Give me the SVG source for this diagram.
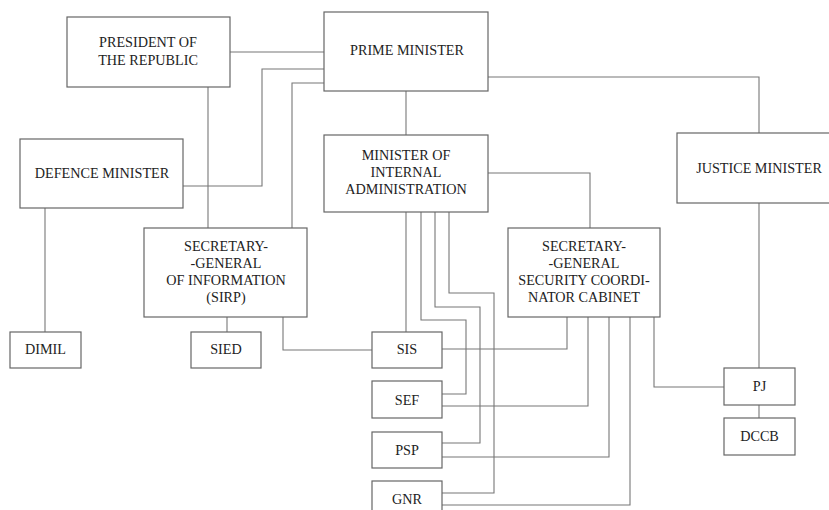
<svg xmlns="http://www.w3.org/2000/svg" width="829" height="510" viewBox="0 0 829 510" font-family="Liberation Serif, DejaVu Serif, serif">
<style>
.box{fill:#fff;stroke:#666;stroke-width:1.2}
.ln{fill:none;stroke:#777;stroke-width:1.1}
text{font-size:14.2px;fill:#222;text-anchor:middle}
</style>
<rect width="829" height="510" fill="#fff"/>
<g id="connectors">
<path class="ln" d="M230 52H324"/>
<path class="ln" d="M324 69H262V186H183"/>
<path class="ln" d="M324 83H292V228"/>
<path class="ln" d="M208 87V228"/>
<path class="ln" d="M406 91V135"/>
<path class="ln" d="M488 77H759V133"/>
<path class="ln" d="M45 208V332"/>
<path class="ln" d="M227 317V332"/>
<path class="ln" d="M283 317V350H372"/>
<path class="ln" d="M406 212V332"/>
<path class="ln" d="M488 173H590V228"/>
<path class="ln" d="M421 212V320H466V394H442"/>
<path class="ln" d="M435 212V307H480V443H442"/>
<path class="ln" d="M449 212V293H494V493H442"/>
<path class="ln" d="M567 317V349H442"/>
<path class="ln" d="M588 317V406H442"/>
<path class="ln" d="M609 317V457H442"/>
<path class="ln" d="M630 317V505H442"/>
<path class="ln" d="M654 317V387H724"/>
<path class="ln" d="M759 203V368"/>
<path class="ln" d="M759 405V418"/>
</g>
<g id="president"><rect class="box" x="67" y="17" width="163" height="70"/><text x="148" y="47">PRESIDENT OF</text><text x="148" y="65">THE REPUBLIC</text></g>
<g id="prime-minister"><rect class="box" x="324" y="12" width="164" height="79"/><text x="407" y="55">PRIME MINISTER</text></g>
<g id="defence-minister"><rect class="box" x="20" y="139" width="163" height="69"/><text x="102" y="178">DEFENCE MINISTER</text></g>
<g id="internal-admin"><rect class="box" x="324" y="135" width="164" height="77"/><text x="406" y="160">MINISTER OF</text><text x="406" y="177">INTERNAL</text><text x="406" y="194">ADMINISTRATION</text></g>
<g id="justice-minister"><rect class="box" x="677" y="133" width="160" height="70"/><text x="759" y="173">JUSTICE MINISTER</text></g>
<g id="sg-information"><rect class="box" x="144" y="228" width="163" height="89"/><text x="226" y="251">SECRETARY-</text><text x="226" y="268">-GENERAL</text><text x="226" y="285">OF INFORMATION</text><text x="226" y="302">(SIRP)</text></g>
<g id="sg-security"><rect class="box" x="508" y="228" width="152" height="89"/><text x="584" y="251">SECRETARY-</text><text x="584" y="268">-GENERAL</text><text x="584" y="285">SECURITY COORDI-</text><text x="584" y="302">NATOR CABINET</text></g>
<g id="dimil"><rect class="box" x="10" y="332" width="71" height="36"/><text x="45.5" y="354">DIMIL</text></g>
<g id="sied"><rect class="box" x="191" y="332" width="70" height="36"/><text x="226" y="354">SIED</text></g>
<g id="sis"><rect class="box" x="372" y="332" width="70" height="36"/><text x="407" y="354">SIS</text></g>
<g id="sef"><rect class="box" x="372" y="381" width="70" height="37"/><text x="407" y="405">SEF</text></g>
<g id="psp"><rect class="box" x="372" y="432" width="70" height="36"/><text x="407" y="455">PSP</text></g>
<g id="gnr"><rect class="box" x="372" y="481" width="70" height="36"/><text x="407" y="504">GNR</text></g>
<g id="pj"><rect class="box" x="724" y="368" width="71" height="37"/><text x="759.5" y="391">PJ</text></g>
<g id="dccb"><rect class="box" x="724" y="418" width="71" height="37"/><text x="759.5" y="441">DCCB</text></g>
</svg>
